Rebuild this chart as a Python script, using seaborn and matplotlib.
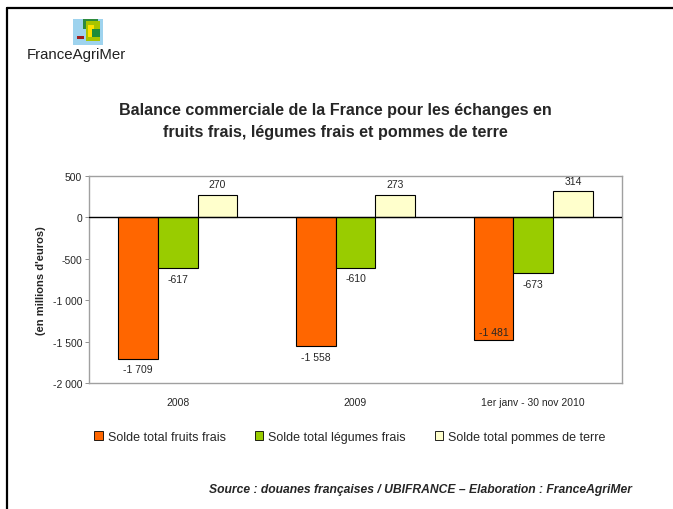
import numpy as np
import pandas as pd
import seaborn as sns
import matplotlib.pyplot as plt
from matplotlib.lines import Line2D
from matplotlib.patches import Rectangle, Patch

# Data
periodes = ["2008", "2009", "1er janv - 30 nov 2010"]
series = ["Solde total fruits frais", "Solde total légumes frais", "Solde total pommes de terre"]
fruits = [-1709, -1558, -1481]
legumes = [-617, -610, -673]
pommes = [270, 273, 314]
couleurs = ["#FF6600", "#99CC00", "#FFFFCC"]
yticks = [500, 0, -500, -1000, -1500, -2000]


def fmt(v):
    return f"{v:,}".replace(",", " ")


df = pd.DataFrame({
    "periode": periodes * 3,
    "serie": [s for s in series for _ in periodes],
    "valeur": fruits + legumes + pommes,
})

sns.set_style("white")
plt.rcParams["font.family"] = ["Liberation Sans", "DejaVu Sans"]

fig = plt.figure(figsize=(6.73, 5.10), dpi=100)
ax = fig.add_axes([89 / 673, 1 - 384 / 510, (622 - 89) / 673, (384 - 177) / 510])

sns.barplot(
    data=df, x="periode", y="valeur", hue="serie",
    palette=couleurs, saturation=1, width=0.67, gap=0,
    edgecolor="black", linewidth=0.8,
    legend=False, ax=ax,
)

ax.set_ylim(-2000, 500)
ax.set_yticks(yticks)
ax.set_yticklabels([fmt(t) for t in yticks], fontsize=7.5)
ax.tick_params(axis="x", length=0, labelsize=7.5, pad=10)
ax.tick_params(axis="y", length=3, width=0.6, color="#808080", pad=2, left=True)
ax.set_xlabel("")
ax.set_ylabel("(en millions d'euros)", fontsize=8, fontweight="bold", labelpad=5)
for sp in ax.spines.values():
    sp.set_color("#A0A0A0")
    sp.set_linewidth(1)
ax.axhline(0, color="black", linewidth=1, zorder=3)

# value labels
for i, cont in enumerate(ax.containers):
    labels = [fmt(int(b.get_height())) for b in cont]
    ax.bar_label(cont, labels=labels, padding=4, fontsize=7.5)
# the 2010 fruit label sits inside the bar
b = ax.containers[0][2]
for t in ax.texts[:]:
    if t.get_text() == fmt(fruits[2]):
        t.remove()
ax.text(b.get_x() + b.get_width() / 2, b.get_height() + 40, fmt(fruits[2]),
        ha="center", va="bottom", fontsize=7.5)

# title
fig.text(0.4985, 1 - 110 / 510, "Balance commerciale de la France pour les échanges en",
         ha="center", va="center", fontsize=11.6, fontweight="bold")
fig.text(0.4985, 1 - 133 / 510, "fruits frais, légumes frais et pommes de terre",
         ha="center", va="center", fontsize=11.6, fontweight="bold")

# legend
handles = [Patch(facecolor=c, edgecolor="black", linewidth=0.6) for c in couleurs]
fig.legend(handles, series, loc="center", bbox_to_anchor=(0.52, 1 - 438 / 510),
           ncol=3, frameon=False, fontsize=9, handlelength=0.7, handleheight=0.7,
           handletextpad=0.4, columnspacing=2.3)

# source
fig.text(632 / 673, 1 - 490 / 510,
         "Source : douanes françaises / UBIFRANCE – Elaboration : FranceAgriMer",
         ha="right", va="center", fontsize=8.7, fontweight="bold", style="italic")

# logo
logo = [(73, 20, 30, 26, "#9ED3EE"), (83, 20, 15, 10, "#2E8B3C"), (86, 22, 14, 20, "#A8C400"),
        (88, 26, 6, 12, "#FFE100"), (92, 30, 8, 8, "#1E8C3A"), (77, 37, 7, 3, "#A01E1E")]
for x, y, w, h, c in logo:
    fig.patches.append(Rectangle((x / 673, 1 - (y + h) / 510), w / 673, h / 510,
                                 transform=fig.transFigure, facecolor=c, edgecolor="none"))
fig.text(27 / 673, 1 - 55 / 510, "FranceAgriMer", ha="left", va="center",
         fontsize=10.8, color="#222222")

# page border
fig.add_artist(Line2D([6.5 / 673, 6.5 / 673], [0, 1 - 8.5 / 510], transform=fig.transFigure,
                      color="black", linewidth=1.6))
fig.add_artist(Line2D([6.5 / 673, 1], [1 - 8.5 / 510, 1 - 8.5 / 510], transform=fig.transFigure,
                      color="black", linewidth=1.6))

fig.savefig("out.png", dpi=100)
